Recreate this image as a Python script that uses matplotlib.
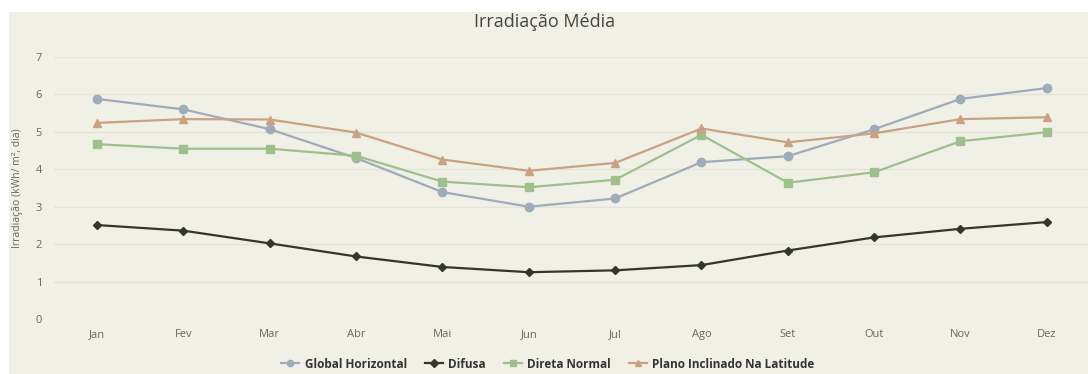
import matplotlib
matplotlib.use("Agg")
from matplotlib import pyplot as plt
from matplotlib.patches import Rectangle
import numpy as np

months = ['Jan', 'Fev', 'Mar', 'Abr', 'Mai', 'Jun',
          'Jul', 'Ago', 'Set', 'Out', 'Nov', 'Dez']
global_horizontal = [5.88, 5.60, 5.07, 4.30, 3.39, 3.00,
                     3.22, 4.19, 4.35, 5.07, 5.88, 6.17]
difusa = [2.51, 2.36, 2.02, 1.67, 1.39, 1.25,
          1.30, 1.44, 1.83, 2.18, 2.41, 2.59]
direta_normal = [4.67, 4.55, 4.55, 4.36, 3.67, 3.52,
                 3.72, 4.92, 3.64, 3.92, 4.75, 4.99]
plano_inclinado = [5.24, 5.34, 5.33, 4.98, 4.26, 3.96,
                   4.17, 5.09, 4.72, 4.96, 5.34, 5.39]

series = [
    ('Global Horizontal', global_horizontal, '#9eabb9', 'o', 6),
    ('Difusa', difusa, '#34352c', 'D', 4),
    ('Direta Normal', direta_normal, '#9fc08c', 's', 5.5),
    ('Plano Inclinado Na Latitude', plano_inclinado, '#c9a283', '^', 6),
]

plt.rcParams['font.family'] = ['Open Sans', 'DejaVu Sans']
bg = '#f1f0e7'

fig = plt.figure(figsize=(10.88, 3.74), dpi=100, facecolor='white')
# beige panel behind everything, leaving a thin white strip top and left
fig.patches.append(Rectangle((9 / 1088, 0), 1 - 9 / 1088, 1 - 12 / 374,
                             transform=fig.transFigure, facecolor=bg,
                             edgecolor='none', zorder=-10))

ax = fig.add_axes([54 / 1088, 1 - 319 / 374, (1090 - 54) / 1088, (319 - 57) / 374])
ax.set_facecolor('none')

x = np.arange(len(months))
for name, vals, color, marker, ms in series:
    ax.plot(x, vals, color=color, marker=marker, markersize=ms,
            linewidth=1.6, label=name, clip_on=False)

ax.set_xlim(-0.5, len(months) - 0.5)
ax.set_ylim(0, 7)
ax.set_yticks(range(0, 8))
ax.set_xticks(x)
ax.set_xticklabels(months)
ax.tick_params(axis='both', length=0, labelsize=8, colors='#666666')
ax.tick_params(axis='x', pad=7)
ax.tick_params(axis='y', pad=11)
for lbl in ax.get_yticklabels():
    lbl.set_horizontalalignment('center')
ax.grid(axis='y', color='#e4e3d8', linewidth=1)
ax.set_axisbelow(True)
for s in ax.spines.values():
    s.set_visible(False)

fig.text(18 / 1088, 1 - 188 / 374, 'Irradiação (kWh/ m², dia)', rotation=90,
         ha='center', va='center', fontsize=7.5, color='#666666')
fig.text(545 / 1088, 1 - 22 / 374, 'Irradiação Média', ha='center',
         va='center', fontsize=13, color='#444444')

leg = fig.legend(loc='center', bbox_to_anchor=(548 / 1088, 1 - 364 / 374),
                 ncol=4, frameon=False, handlelength=1.5,
                 handletextpad=0.5, columnspacing=1.5,
                 prop={'weight': 'bold', 'size': 8.5})
for t in leg.get_texts():
    t.set_color('#333333')
for h in leg.legend_handles:
    h.set_markersize(4.5)

fig.savefig('out.png', dpi=100, facecolor='white')
